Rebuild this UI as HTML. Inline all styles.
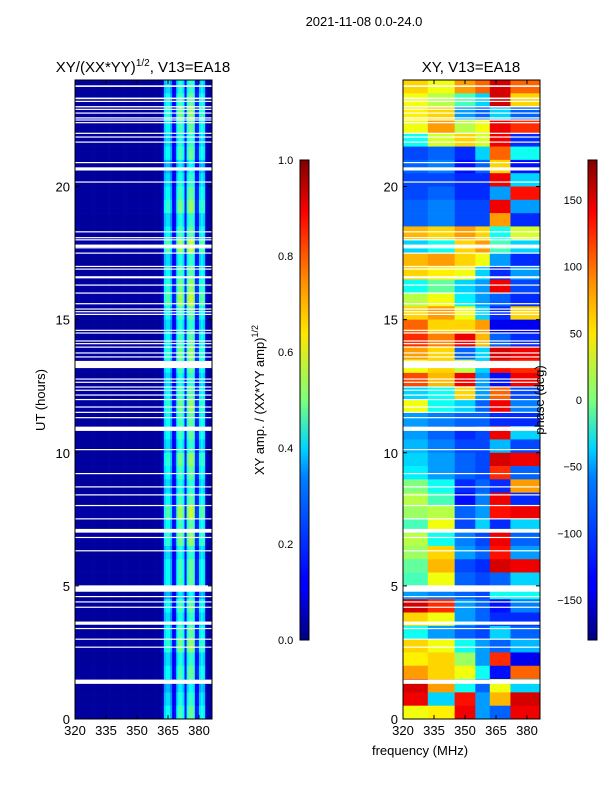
<!DOCTYPE html>
<html><head><meta charset="utf-8"><style>
body{margin:0;background:#fff;width:600px;height:800px;overflow:hidden}
svg text{font-family:"Liberation Sans","DejaVu Sans",sans-serif;fill:#000}
</style></head><body>
<svg id="fig" width="600" height="800" xmlns="http://www.w3.org/2000/svg">
<text x="364" y="26" font-size="13" text-anchor="middle">2021-11-08 0.0-24.0</text>
<text x="143" y="72" font-size="15" text-anchor="middle">XY/(XX*YY)<tspan font-size="10" dy="-6">1/2</tspan><tspan dy="6">, V13=EA18</tspan></text>
<text x="471" y="72" font-size="15" text-anchor="middle">XY, V13=EA18</text>
<g id="left"></g>
<g id="right"></g>
<g id="axes"></g>
<defs>
<linearGradient id="jet" x1="0" y1="1" x2="0" y2="0">
<stop offset="0" stop-color="#000080"/><stop offset="0.11" stop-color="#0000ff"/><stop offset="0.125" stop-color="#0000ff"/><stop offset="0.34" stop-color="#0080ff"/><stop offset="0.375" stop-color="#00b0ff"/><stop offset="0.4" stop-color="#00d4ff"/><stop offset="0.5" stop-color="#7dff7a"/><stop offset="0.64" stop-color="#ffe600"/><stop offset="0.75" stop-color="#ff8c00"/><stop offset="0.89" stop-color="#ff0000"/><stop offset="1" stop-color="#800000"/>
</linearGradient></defs>
<rect x="300" y="160" width="9" height="480" fill="url(#jet)" stroke="#000" stroke-width="1"/>
<rect x="588" y="160" width="9" height="480" fill="url(#jet)" stroke="#000" stroke-width="1"/>
<text transform="translate(264,400) rotate(-90)" font-size="13" text-anchor="middle">XY amp. / (XX*YY amp)<tspan font-size="9" dy="-6">1/2</tspan></text>
<text transform="translate(544,400) rotate(-90)" font-size="13" text-anchor="middle">phase (deg)</text>
<text transform="translate(45,400) rotate(-90)" font-size="13" text-anchor="middle">UT (hours)</text>
<text x="420" y="755" font-size="13" text-anchor="middle">frequency (MHz)</text>
</svg>
<script>
const freqMin=320,freqMax=386.3,hourMin=0,hourMax=24;
const xTicks=[320,335,350,365,380];
const yTicks=[0,5,10,15,20];
const ampTicks=[0.0,0.2,0.4,0.6,0.8,1.0];
const phaseTicks=[150,100,50,0,-50,-100,-150];
// amplitude per 1 MHz channel, 320..385
const ampChannels=[0.03,0.03,0.03,0.03,0.03,0.03,0.03,0.03,0.03,0.03,0.03,0.03,0.03,0.03,0.03,0.03,0.03,0.03,0.03,0.03,0.03,0.03,0.03,0.03,0.03,0.03,0.03,0.03,0.03,0.03,0.03,0.03,0.03,0.03,0.03,0.03,0.03,0.03,0.03,0.03,0.03,0.03,0.08,0.34,0.38,0.38,0.3,0.12,0.14,0.38,0.45,0.45,0.38,0.14,0.4,0.48,0.48,0.44,0.15,0.16,0.36,0.4,0.36,0.07,0.04,0.04];
// per half-hour row amplitude scale, from 24h downward
const ampRowScale=[0.9,1.0,1.1,1.0,0.9,1.0,0.8,0.9,1.0,1.1,0.9,1.0,1.2,0.9,1.0,1.1,1.2,1.0,0.9,1.0,1.1,1.0,0.9,1.0,1.1,1.0,1.0,0.9,1.1,1.0,0.9,1.0,1.2,1.0,1.1,0.9,1.0,1.0,0.8,1.0,0.9,1.0,1.1,0.9,1.0,0.8,0.9,1.0];
// phase (deg), rows of 0.5h from 24h downward, 6 freq bands
const phaseBandEdges=[320,332,345,355,362,372,386.3];
const phaseRows=[
[60,40,80,100,150,100],[40,20,-20,-60,150,60],[50,60,-80,-100,-60,-100],[40,80,20,40,140,120],
[-40,30,60,30,140,-120],[-110,-100,-120,-60,100,-40],[-100,-90,-130,-100,60,-130],[-110,-110,-120,-120,140,-60],
[-110,-100,-120,-120,-80,130],[-100,-90,-110,-110,140,-80],[-100,-90,-110,-110,80,-120],[70,60,80,60,-40,30],
[-60,-40,60,80,-20,-60],[70,80,60,40,-80,-120],[60,50,40,-60,-120,-80],[-40,-10,-60,-80,140,-110],
[20,40,-50,-80,-100,-120],[60,80,40,-60,-120,60],[100,60,60,80,-140,-140],[120,90,140,70,-100,-120],
[80,60,-100,-60,150,140],[40,60,20,-60,130,120],[110,70,140,-80,-130,140],[-60,-40,60,-80,100,-110],
[40,-40,-60,-100,140,-90],[-80,-90,-100,-100,-120,-120],[-80,-100,-120,-110,140,-60],[-70,-90,-110,-110,-70,-110],
[-60,-80,-100,-110,150,140],[-50,-80,-100,-110,120,-100],[0,-40,-120,-100,-120,80],[20,-20,-130,-90,140,-120],
[10,20,-100,-80,130,140],[-20,40,-110,-60,-120,-60],[20,-40,-90,-110,140,-100],[10,60,-80,-100,130,-80],
[-10,70,-110,-120,150,140],[-20,40,-100,-110,-100,-60],[-80,-90,-100,-110,-40,-40],[150,120,-80,-100,-130,-90],
[60,40,-80,-100,-120,-120],[-40,-80,-100,-110,-60,-100],[60,40,-40,-80,-100,-70],[50,60,10,-80,120,-140],
[80,60,40,-40,-130,100],[150,80,-40,-100,40,-60],[140,-60,130,-80,70,150],[40,50,140,-80,-100,140]];
// flagged (white) intervals [startHour, endHour]
const gaps=[[23.74,23.8],[23.28,23.34],[23.18,23.22],[22.97,23.02],[22.88,22.92],[22.74,22.78],[22.55,22.6],[22.48,22.52],[22.38,22.42],[21.98,22.02],[21.84,21.88],[21.65,21.69],[20.88,20.92],[20.6,20.72],[20.15,20.19],[18.28,18.32],[18.06,18.1],[17.98,18.02],[17.72,17.82],[17.68,17.72],[17.48,17.52],[16.98,17.02],[16.88,16.92],[16.55,16.63],[16.28,16.32],[15.98,16.02],[15.58,15.62],[15.38,15.42],[15.28,15.32],[15.18,15.22],[14.58,14.62],[14.48,14.52],[14.18,14.22],[14.08,14.12],[13.95,13.99],[13.73,13.77],[13.58,13.62],[13.18,13.45],[12.75,12.79],[12.63,12.67],[12.45,12.49],[12.33,12.37],[12.15,12.19],[11.98,12.02],[11.7,11.74],[11.5,11.54],[11.3,11.34],[10.82,10.98],[10.1,10.14],[9.2,9.24],[8.7,8.74],[8.4,8.44],[8.0,8.04],[7.5,7.54],[7.0,7.14],[6.8,6.84],[6.3,6.34],[4.78,5.02],[4.58,4.62],[4.38,4.42],[4.18,4.22],[3.54,3.66],[3.38,3.42],[2.98,3.02],[2.68,2.72],[1.32,1.48]];

function jet(v){v=Math.max(0,Math.min(1,v));
 const r=Math.max(0,Math.min(1,1.5-Math.abs(4*v-3))),g=Math.max(0,Math.min(1,1.5-Math.abs(4*v-2))),b=Math.max(0,Math.min(1,1.5-Math.abs(4*v-1)));
 return `rgb(${Math.round(r*255)},${Math.round(g*255)},${Math.round(b*255)})`;}
const NS="http://www.w3.org/2000/svg";
function mk(t,a,p){const e=document.createElementNS(NS,t);for(const k in a)e.setAttribute(k,a[k]);p.appendChild(e);return e;}
const panels={left:{x0:75,x1:212},right:{x0:403,x1:540}};
const yTop=80,yBot=719;
function yScale(h){return yBot-(h-hourMin)/(hourMax-hourMin)*(yBot-yTop);}
function xScale(p,f){return p.x0+(f-freqMin)/(freqMax-freqMin)*(p.x1-p.x0);}
const L=document.getElementById('left'),R=document.getElementById('right');
const rowH=0.5;
for(let r=0;r<ampRowScale.length;r++){
 const hTop=hourMax-r*rowH,hBot=hTop-rowH;
 for(let c=0;c<ampChannels.length;c++){
  const x=xScale(panels.left,freqMin+c),x2=xScale(panels.left,Math.min(freqMax,freqMin+c+1));
  const cell=mk('rect',{x:x,y:yScale(hTop),width:x2-x+0.3,height:yScale(hBot)-yScale(hTop)+0.3,fill:jet(ampChannels[c]*ampRowScale[r])},L);
  
  
 }
}
for(let r=0;r<phaseRows.length;r++){
 const hTop=hourMax-r*rowH,hBot=hTop-rowH;
 for(let c=0;c<phaseRows[r].length;c++){
  const x=xScale(panels.right,phaseBandEdges[c]),x2=xScale(panels.right,phaseBandEdges[c+1]);
  const cell=mk('rect',{x:x,y:yScale(hTop),width:x2-x+0.3,height:yScale(hBot)-yScale(hTop)+0.3,fill:jet((phaseRows[r][c]+180)/360)},R);
  
  
 }
}
for(const key of ['left','right']){
 const p=panels[key],g=key==='left'?L:R;
 for(const gp of gaps){
  const gr=mk('rect',{x:p.x0,y:yScale(gp[1]),width:p.x1-p.x0,height:Math.max(1.2,yScale(gp[0])-yScale(gp[1])),fill:'#fff'},g);
  
  
 }
}
const A=document.getElementById('axes');
for(const key of ['left','right']){
 const p=panels[key];
 const fr=mk('rect',{x:p.x0,y:yTop,width:p.x1-p.x0,height:yBot-yTop,fill:'none',stroke:'#000','stroke-width':1},A);
 
 
 for(const t of xTicks){const x=xScale(p,t);
  mk('line',{x1:x,x2:x,y1:yBot,y2:yBot-4,stroke:'#000'},A);mk('line',{x1:x,x2:x,y1:yTop,y2:yTop+4,stroke:'#000'},A);
  const tx=mk('text',{x:x,y:yBot+16,'font-size':13,'text-anchor':'middle'},A);tx.textContent=t;
  
  }
 for(const t of yTicks){const y=yScale(t);
  mk('line',{x1:p.x0,x2:p.x0+4,y1:y,y2:y,stroke:'#000'},A);mk('line',{x1:p.x1,x2:p.x1-4,y1:y,y2:y,stroke:'#000'},A);
  const tx=mk('text',{x:p.x0-5,y:y+5,'font-size':13,'text-anchor':'end'},A);tx.textContent=t;
  
  }
}
for(const t of ampTicks){const y=640-t*480;
 mk('line',{x1:305,x2:309,y1:y,y2:y,stroke:'#000'},A);
 const tx=mk('text',{x:278,y:y+4,'font-size':11},A);tx.textContent=t.toFixed(1);
 
 }
for(const t of phaseTicks){const y=640-(t+180)/360*480;
 mk('line',{x1:593,x2:597,y1:y,y2:y,stroke:'#000'},A);
 const tx=mk('text',{x:582,y:y+4,'font-size':11,'text-anchor':'end'},A);tx.textContent=t<0?'\u2212'+(-t):t;
 
 }
</script>
</body></html>
